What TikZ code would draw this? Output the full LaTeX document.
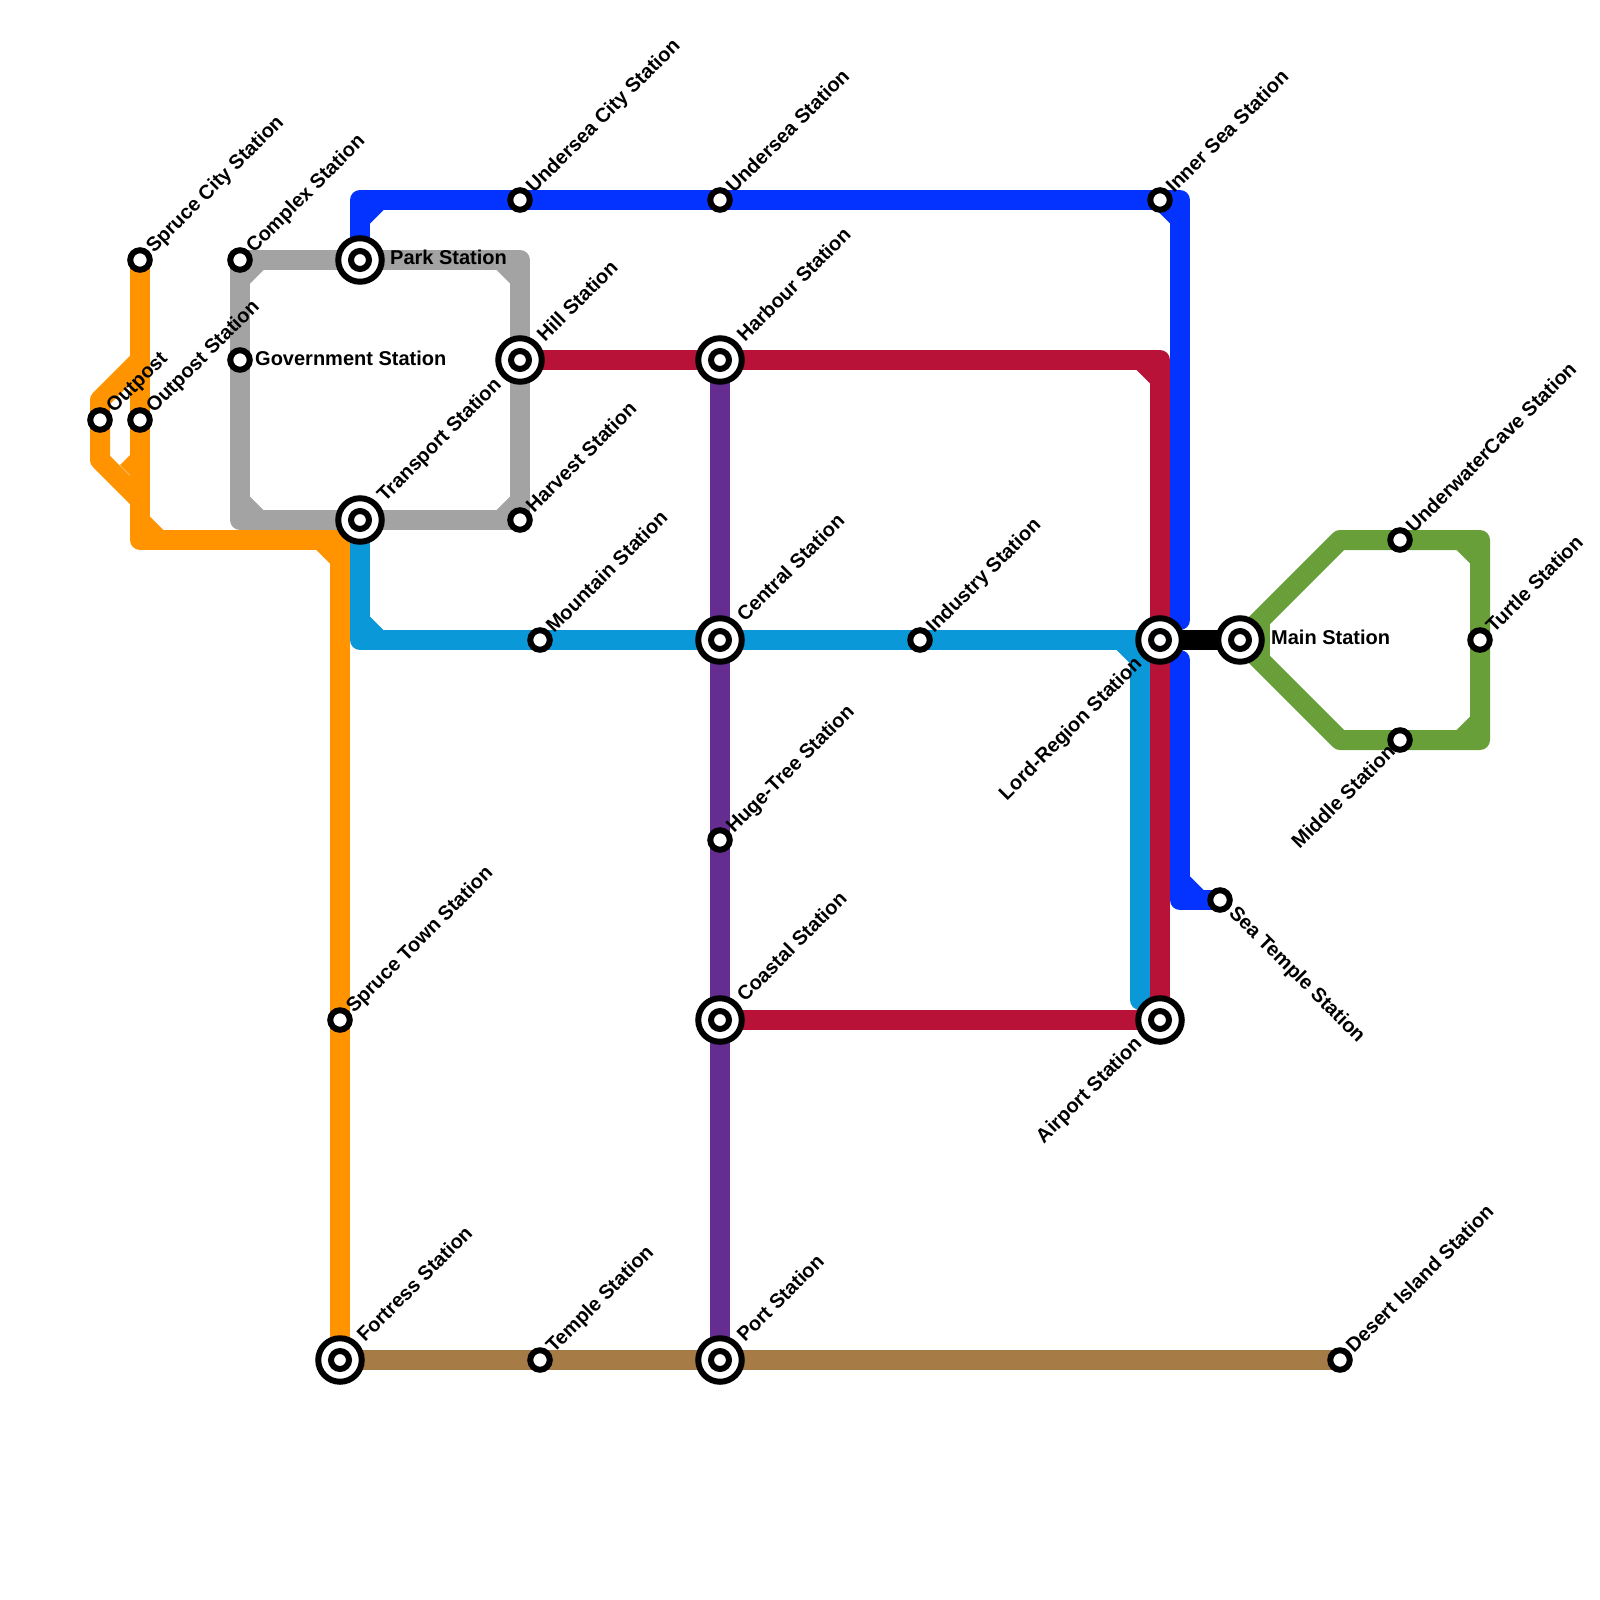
\documentclass[tikz,border=0pt]{standalone}
\usepackage{fontspec}
\setmainfont{Liberation Sans}
\usetikzlibrary{backgrounds}
\definecolor{LineOrange}{HTML}{FF9300}
\definecolor{LineGrey}{HTML}{A3A3A3}
\definecolor{LineBlue}{HTML}{0433FF}
\definecolor{LineSky}{HTML}{0A98D8}
\definecolor{LineRed}{HTML}{B81238}
\definecolor{LinePurple}{HTML}{662D91}
\definecolor{LineBrown}{HTML}{A67B45}
\definecolor{LineGreen}{HTML}{689F38}
\newcommand{\chamfer}[5]{\fill[#1] ({#2+10*#4},{#3+10*#5}) -- ++({13.5*#4},0) -- ++({-13.5*#4},{13.5*#5}) -- cycle;}

\begin{document}
\begin{tikzpicture}[x=1pt,y=-1pt,
  metro/.style={line width=20pt,line join=round},
  station/.style={circle,draw=black,fill=white,line width=6pt,minimum size=19.5pt,inner sep=0pt},
  hub/.style={station,minimum size=43.5pt,path picture={\draw[line width=6pt] (path picture bounding box.center) circle (9pt);}},
  tag/.style={font=\fontsize{20}{22}\selectfont\bfseries,inner sep=0pt},
  tagne/.style={tag,anchor=base west,xshift=14pt,yshift=6pt,rotate=45},
  taghub/.style={tag,anchor=base west,xshift=25pt,yshift=17pt,rotate=45},
  tagsw/.style={tag,anchor=base east,xshift=-17pt,yshift=-25pt,rotate=45},
  tagse/.style={tag,anchor=base west,xshift=8pt,yshift=-14pt,rotate=-45},
  tagright/.style={tag,anchor=west}]
\useasboundingbox (0,0) rectangle (1600,1600);
% stations
\node[station] (outpost) at (100,420) {};
\node[station] (outpostst) at (140,420) {};
\node[station] (sprucecity) at (140,260) {};
\node[station] (complex) at (240,260) {};
\node[station] (government) at (240,360) {};
\node[hub] (park) at (360,260) {};
\node[hub] (transport) at (360,520) {};
\node[hub] (hill) at (520,360) {};
\node[station] (harvest) at (520,520) {};
\node[station] (underseacity) at (520,200) {};
\node[station] (undersea) at (720,200) {};
\node[station] (innersea) at (1160,200) {};
\node[hub] (harbour) at (720,360) {};
\node[hub] (central) at (720,640) {};
\node[station] (hugetree) at (720,840) {};
\node[hub] (coastal) at (720,1020) {};
\node[hub] (port) at (720,1360) {};
\node[hub] (fortress) at (340,1360) {};
\node[station] (temple) at (540,1360) {};
\node[station] (desert) at (1340,1360) {};
\node[station] (sprucetown) at (340,1020) {};
\node[station] (mountain) at (540,640) {};
\node[station] (industry) at (920,640) {};
\node[hub] (lord) at (1160,640) {};
\node[hub] (main) at (1240,640) {};
\node[hub] (airport) at (1160,1020) {};
\node[station] (seatemple) at (1220,900) {};
\node[station] (cave) at (1400,540) {};
\node[station] (middle) at (1400,740) {};
\node[station] (turtle) at (1480,640) {};
% bends
\coordinate (orangeA) at (140,360);
\coordinate (orangeB) at (100,400);
\coordinate (orangeC) at (100,460);
\coordinate (orangeD) at (140,500);
\coordinate (orangeE) at (140,540);
\coordinate (orangeF) at (340,540);
\coordinate (greyA) at (520,260);
\coordinate (greyB) at (240,520);
\coordinate (skyA) at (360,640);
\coordinate (skyB) at (1140,640);
\coordinate (skyC) at (1140,1000);
\coordinate (skyD) at (1160,1000);
\coordinate (redA) at (1160,360);
\coordinate (blueA) at (360,200);
\coordinate (blueB) at (1180,200);
\coordinate (blueC) at (1180,620);
\coordinate (blueD) at (1160,620);
\coordinate (blueE) at (1160,660);
\coordinate (blueF) at (1180,660);
\coordinate (blueG) at (1180,900);
\coordinate (greenA) at (1340,540);
\coordinate (greenB) at (1480,540);
\coordinate (greenC) at (1480,740);
\coordinate (greenD) at (1340,740);
\coordinate (greenE) at (1260,620);
\coordinate (greenF) at (1260,660);
\begin{scope}[on background layer]
\draw[metro,LineGrey] (complex.center) -- (park.center) -- (greyA) -- (hill.center) -- (harvest.center) -- (transport.center) -- (greyB) -- (government.center) -- (complex.center);
\chamfer{LineGrey}{240}{260}{1}{1}
\chamfer{LineGrey}{520}{260}{-1}{1}
\chamfer{LineGrey}{520}{520}{-1}{-1}
\chamfer{LineGrey}{240}{520}{1}{-1}
\draw[metro,LineOrange] (sprucecity.center) -- (outpostst.center) -- (orangeE) -- (orangeF) -- (sprucetown.center) -- (fortress.center);
\draw[metro,LineOrange] (orangeA) -- (orangeB) -- (outpost.center) -- (orangeC) -- (orangeD);
\chamfer{LineOrange}{140}{540}{1}{-1}
\chamfer{LineOrange}{340}{540}{-1}{1}
\fill[LineOrange] (130,455) -- (120,465) -- (130,475) -- cycle;
\draw[metro,LineBlue] (park.center) -- (blueA) -- (underseacity.center) -- (undersea.center) -- (innersea.center) -- (blueB) -- (blueC) -- (blueD);
\draw[metro,LineBlue] (blueE) -- (blueF) -- (blueG) -- (seatemple.center);
\chamfer{LineBlue}{360}{200}{1}{1}
\chamfer{LineBlue}{1180}{200}{-1}{1}
\chamfer{LineBlue}{1180}{900}{1}{-1}
\draw[metro,LineSky] (transport.center) -- (skyA) -- (mountain.center) -- (central.center) -- (industry.center) -- (skyB) -- (skyC) -- (skyD);
\chamfer{LineSky}{360}{640}{1}{-1}
\chamfer{LineSky}{1140}{640}{-1}{1}
\draw[metro,LineRed] (hill.center) -- (harbour.center) -- (redA) -- (lord.center) -- (airport.center) -- (coastal.center);
\chamfer{LineRed}{1160}{360}{-1}{1}
\chamfer{LineRed}{1160}{1020}{-1}{-1}
\draw[metro,LinePurple] (harbour.center) -- (central.center) -- (hugetree.center) -- (coastal.center) -- (port.center);
\draw[metro,LineBrown] (fortress.center) -- (temple.center) -- (port.center) -- (desert.center);
\draw[metro,LineGreen] (main.center) -- (greenA) -- (cave.center) -- (greenB) -- (turtle.center) -- (greenC) -- (middle.center) -- (greenD) -- (main.center);
\draw[metro,LineGreen] (greenE) -- (greenF);
\chamfer{LineGreen}{1480}{540}{-1}{1}
\chamfer{LineGreen}{1480}{740}{-1}{-1}
\draw[metro,black] (lord.center) -- (main.center);
\end{scope}
% labels
\node[tagne] (outposttag) at (outpost) {Outpost};
\node[tagne] (outpoststtag) at (outpostst) {Outpost Station};
\node[tagne] (sprucecitytag) at (sprucecity) {Spruce City Station};
\node[tagne] (complextag) at (complex) {Complex Station};
\node[tagright] (governmenttag) at (255,358) {Government Station};
\node[tagright] (parktag) at (390,257) {Park Station};
\node[taghub] (transporttag) at (transport) {Transport Station};
\node[taghub] (hilltag) at (hill) {Hill Station};
\node[tagne] (harvesttag) at (harvest) {Harvest Station};
\node[tagne] (underseacitytag) at (underseacity) {Undersea City Station};
\node[tagne] (underseatag) at (undersea) {Undersea Station};
\node[tagne] (innerseatag) at (innersea) {Inner Sea Station};
\node[taghub] (harbourtag) at (harbour) {Harbour Station};
\node[taghub] (centraltag) at (central) {Central Station};
\node[tagne] (hugetreetag) at (hugetree) {Huge-Tree Station};
\node[taghub] (coastaltag) at (coastal) {Coastal Station};
\node[taghub] (porttag) at (port) {Port Station};
\node[taghub] (fortresstag) at (fortress) {Fortress Station};
\node[tagne] (templetag) at (temple) {Temple Station};
\node[tagne] (deserttag) at (desert) {Desert Island Station};
\node[tagne] (sprucetowntag) at (sprucetown) {Spruce Town Station};
\node[tagne] (mountaintag) at (mountain) {Mountain Station};
\node[tagne] (industrytag) at (industry) {Industry Station};
\node[tagsw] (lordtag) at (lord) {Lord-Region Station};
\node[tagsw] (airporttag) at (airport) {Airport Station};
\node[tagsw,xshift=18pt,yshift=-1pt] (middletag) at (middle) {Middle Station};
\node[tagse] (seatempletag) at (seatemple) {Sea Temple Station};
\node[tagright] (maintag) at (1271,637) {Main Station};
\node[tagne] (cavetag) at (cave) {UnderwaterCave Station};
\node[tagne] (turtletag) at (turtle) {Turtle Station};
\end{tikzpicture}
\end{document}
